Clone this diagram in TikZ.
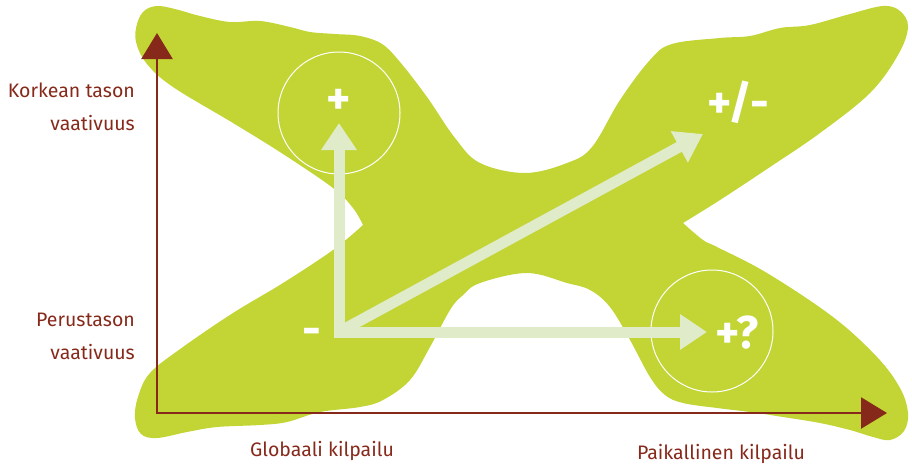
\documentclass[tikz,border=0pt]{standalone}
\usepackage{fontspec}
\setmainfont{Fira Sans}
\usepackage{tikz}
\usetikzlibrary{arrows.meta}
\definecolor{blobgreen}{HTML}{C2D534}
\definecolor{axisred}{HTML}{86291A}
\definecolor{routegreen}{HTML}{DFEBC9}

\begin{document}
\begin{tikzpicture}[x=1pt, y=-1pt,
    axisline/.style={draw=axisred, line width=2.4pt, line cap=rect, -{Triangle[length=26pt, width=31pt]}},
    route/.style={draw=routegreen, line width=11pt, -{Triangle[length=27pt, width=34pt]}},
    ringnode/.style={draw=white, line width=1pt, circle, minimum size=122pt, inner sep=0pt},
    signtext/.style={text=white, font=\fontsize{46}{46}\bfseries\selectfont, inner sep=0pt},
    axislabel/.style={text=axisred, font=\fontsize{19.5}{33}\selectfont, align=right, inner sep=0pt}
  ]
    \useasboundingbox (0,0) rectangle (912,466);

    % X-shaped area
    \fill[blobgreen] plot[smooth, tension=0.6] coordinates {
      (363,225) (353,208) (333,188) (283,154) (233,123) (173,87) (147,64)
      (136,42) (137,24) (144,11) (157,6) (175,9) (200,16) (230,22) (260,21)
      (290,27) (310,32) (335,34) (360,36) (382,44) (400,62) (427,97) (455,138)
      (480,163) (525,173) (567,163) (592,147) (620,100) (650,60) (672,44)
      (720,38) (750,36) (780,28) (810,25) (850,14) (883,6) (900,11) (908,27)
      (898,55) (870,93) (820,133) (770,167) (720,200) (683,223)}
      -- plot[smooth, tension=0.6] coordinates {
      (683,223) (703,240) (717,247) (767,273) (833,317) (877,357) (900,388)
      (908,413) (904,431) (890,440) (873,437) (850,430) (820,423) (783,417)
      (750,412) (717,408) (683,403) (665,395) (650,377) (630,340) (610,307)
      (590,290) (567,283) (527,273) (480,283) (462,296) (450,310) (430,347)
      (410,380) (383,400) (360,407) (320,412) (287,422) (260,425) (217,427)
      (187,432) (157,438) (141,434) (135,418) (138,397) (150,373) (183,347)
      (233,313) (283,283) (333,250) (363,225)} -- cycle;

    % Axes
    \coordinate (origo) at (157,413);
    \coordinate (ykarki) at (157,33);
    \coordinate (xkarki) at (887,413);
    \draw[axisline] (origo) -- (ykarki);
    \draw[axisline] (origo) -- (xkarki);

    % Circles
    \node[ringnode] (plusring) at (339,113) {};
    \node[ringnode] (kysyring) at (712,331) {};

    % Routes
    \coordinate (alku) at (339,332);
    \coordinate (ylos) at (339,123);
    \coordinate (oikea) at (707,332);
    \coordinate (vino) at (703,134);
    \draw[route, line cap=rect] (alku) -- (ylos);
    \draw[route, line cap=rect] (alku) -- (oikea);
    \draw[route] (alku) -- (vino);

    % Signs
    \node[signtext] (plus) at (339,102) {+};
    \node[signtext] (plusmiinus) at (738,102) {+/-};
    \node[signtext] (pluskysy) at (737,333) {+?};
    \node[signtext] (miinus) at (312,337) {-};

    % Axis labels
    \node[axislabel, anchor=east] (korkea) at (135,107) {Korkean tason\\vaativuus};
    \node[axislabel, anchor=east] (perus) at (135,336) {Perustason\\vaativuus};
    \node[axislabel, anchor=base] (globaali) at (322,456) {Globaali kilpailu};
    \node[axislabel, anchor=base] (paikallinen) at (721,459) {Paikallinen kilpailu};

\end{tikzpicture}
\end{document}
